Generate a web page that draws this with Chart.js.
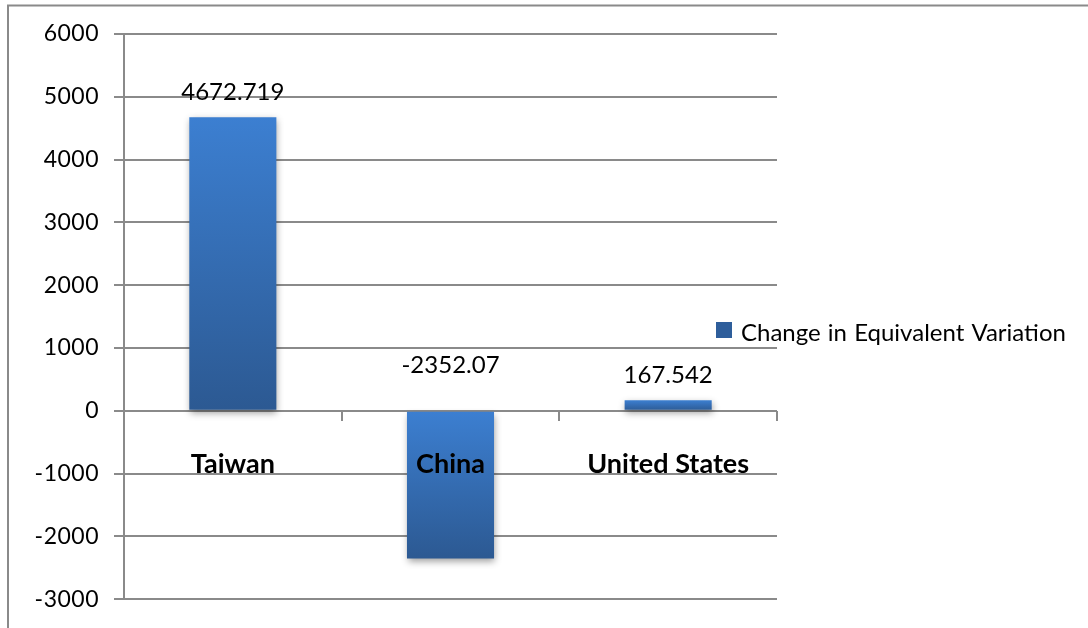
<!DOCTYPE html>
<html>
<head>
<meta charset="utf-8">
<script src="https://cdn.jsdelivr.net/npm/chart.js@4/dist/chart.umd.min.js"></script>
<style>
  html, body { margin: 0; padding: 0; background: #ffffff; }
  #wrap { position: relative; width: 1088px; height: 628px; }
  canvas { display: block; }
</style>
</head>
<body>
<div id="wrap"><canvas id="chart" width="1088" height="628"></canvas></div>
<script>
// Chart data
const categories = ['Taiwan', 'China', 'United States'];
const seriesName = 'Change in Equivalent Variation';
const seriesValues = [4672.719, -2352.07, 167.542];
const valueLabels = ['4672.719', '-2352.07', '167.542'];
const yTicks = [-3000, -2000, -1000, 0, 1000, 2000, 3000, 4000, 5000, 6000];

const GRID = '#8a8a8a';
const BAR_LIGHT = '#3c7fd1';
const BAR_DARK = '#2c5992';

// Vertical gradient from the top of each bar to its bottom
function barFill(ctx) {
  const chart = ctx.chart;
  if (!chart.chartArea || ctx.type !== 'data') return BAR_DARK;
  const y = chart.scales.y;
  const v = ctx.raw;
  const top = y.getPixelForValue(Math.max(v, 0));
  const bot = y.getPixelForValue(Math.min(v, 0));
  if (bot - top < 2) return BAR_LIGHT;
  const g = chart.ctx.createLinearGradient(0, top, 0, bot);
  g.addColorStop(0, BAR_LIGHT);
  g.addColorStop(1, BAR_DARK);
  return g;
}

// Outer frame, bar shadow, value labels and legend
const decorations = {
  id: 'decorations',
  beforeDraw(chart) {
    const c = chart.ctx;
    c.save();
    c.strokeStyle = GRID;
    c.lineWidth = 2;
    c.beginPath();
    c.moveTo(8, 628);
    c.lineTo(8, 5.5);
    c.lineTo(1088, 5.5);
    c.stroke();
    c.restore();
    // slightly spaced digits for the value axis labels
    c.letterSpacing = '0.5px';
  },
  beforeDatasetsDraw(chart) {
    const c = chart.ctx;
    c.letterSpacing = '0px';
    c.save();
    c.shadowColor = 'rgba(0,0,0,0.38)';
    c.shadowBlur = 7;
    c.shadowOffsetX = 1;
    c.shadowOffsetY = 3;
  },
  afterDatasetsDraw(chart) {
    const c = chart.ctx;
    c.restore();
    const meta = chart.getDatasetMeta(0);
    const y = chart.scales.y;
    c.save();
    c.fillStyle = '#000';
    c.font = '24px Lato';
    c.textAlign = 'center';
    c.textBaseline = 'alphabetic';
    meta.data.forEach((bar, i) => {
      const v = seriesValues[i];
      const base = v >= 0 ? y.getPixelForValue(v) - 17 : y.getPixelForValue(0) - 38;
      c.fillText(valueLabels[i], bar.x, base);
    });
    c.restore();
  },
  afterDraw(chart) {
    const c = chart.ctx;
    c.save();
    c.fillStyle = '#2e5e9b';
    c.fillRect(716, 322, 16, 16);
    c.fillStyle = '#000';
    c.font = '24px Lato';
    c.wordSpacing = '1px';
    c.textAlign = 'left';
    c.textBaseline = 'alphabetic';
    c.fillText(chart.data.datasets[0].label, 741, 341);
    c.restore();
  }
};

new Chart(document.getElementById('chart'), {
  type: 'bar',
  data: {
    labels: categories,
    datasets: [{
      label: seriesName,
      data: seriesValues,
      backgroundColor: barFill,
      borderWidth: 0,
      barPercentage: 0.4,
      categoryPercentage: 1.0
    }]
  },
  options: {
    responsive: false,
    animation: false,
    layout: { padding: { left: 0, top: 34, right: 311, bottom: 28 } },
    plugins: {
      legend: { display: false },
      tooltip: { enabled: false }
    },
    scales: {
      x: {
        type: 'category',
        position: { y: 0 },
        offset: true,
        afterFit(scale) { scale.height = 0; },
        border: { display: false },
        grid: {
          offset: true,
          drawOnChartArea: false,
          drawTicks: true,
          tickLength: 10,
          color: GRID,
          lineWidth: 2
        },
        ticks: {
          z: 1,
          color: '#000',
          padding: 27,
          font: { family: 'Lato', size: 27, weight: 'bold' }
        }
      },
      y: {
        min: -3000,
        max: 6000,
        afterFit(scale) { scale.width = 124; },
        afterBuildTicks(scale) { scale.ticks = yTicks.map(v => ({ value: v })); },
        border: { display: true, color: GRID, width: 2 },
        grid: { color: GRID, lineWidth: 2, tickLength: 10 },
        ticks: {
          color: '#000',
          padding: 15,
          font: { family: 'Lato', size: 23 },
          callback: (v) => String(v)
        }
      }
    }
  },
  plugins: [decorations]
});
</script>
</body>
</html>
